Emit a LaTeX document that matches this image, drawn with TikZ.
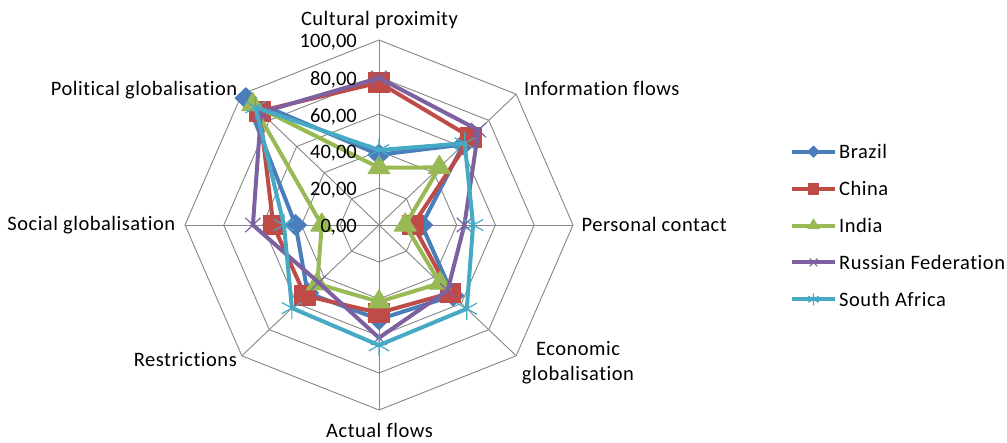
\documentclass[tikz,border=0pt]{standalone}
\usepackage{fontspec}
\setmainfont{Carlito}[Ligatures=NoCommon]
\newfontfamily\labelfont{Carlito}[Ligatures=NoCommon, LetterSpace=2.5]
\usetikzlibrary{plotmarks}

\definecolor{gridgray}{HTML}{868686}
\definecolor{brazilblue}{HTML}{4A7EBB}
\definecolor{chinared}{HTML}{BE4B48}
\definecolor{indiagreen}{HTML}{98B954}
\definecolor{russiapurple}{HTML}{7D60A0}
\definecolor{africacyan}{HTML}{46AAC5}

\tikzset{
    grid line/.style={draw=gridgray, line width=0.9pt},
    series/.style={line width=4pt, line join=round},
    brazil line/.style={series, brazilblue, mark=square*, mark size=4pt,
        mark options={solid, line width=0.8pt, rotate=45}},
    china line/.style={series, chinared, mark=square*, mark size=5.3pt,
        mark options={solid, line width=0.8pt}},
    india line/.style={series, indiagreen, mark=triangle*, mark size=6.6pt,
        mark options={solid, line width=0.8pt}},
    russia line/.style={series, russiapurple, mark=x, mark size=5.5pt,
        mark options={solid, line width=1.2pt}},
    africa line/.style={series, africacyan, mark=asterisk, mark size=6pt,
        mark options={solid, line width=1.2pt}},
    axis label/.style={font=\labelfont\fontsize{20.5}{25}\selectfont, inner sep=0pt, text=black},
    tick label/.style={font=\fontsize{20.5}{25}\selectfont, inner sep=0pt, text=black, anchor=east},
    legend label/.style={axis label, anchor=west}
}

\begin{document}
\begin{tikzpicture}[x=1pt, y=1pt]
    \useasboundingbox (0,0) rectangle (1007,-442);

    \begin{scope}[shift={(379,-225)}, xscale=1.94, yscale=1.85]
        % Rings
        \draw [grid line] (90:20) -- (45:20) -- (0:20) -- (-45:20) -- (-90:20) -- (-135:20) -- (180:20) -- (135:20) -- cycle;
        \draw [grid line] (90:40) -- (45:40) -- (0:40) -- (-45:40) -- (-90:40) -- (-135:40) -- (180:40) -- (135:40) -- cycle;
        \draw [grid line] (90:60) -- (45:60) -- (0:60) -- (-45:60) -- (-90:60) -- (-135:60) -- (180:60) -- (135:60) -- cycle;
        \draw [grid line] (90:80) -- (45:80) -- (0:80) -- (-45:80) -- (-90:80) -- (-135:80) -- (180:80) -- (135:80) -- cycle;
        \draw [grid line] (90:100) -- (45:100) -- (0:100) -- (-45:100) -- (-90:100) -- (-135:100) -- (180:100) -- (135:100) -- cycle;

        % Spokes
        \draw [grid line] (90:100) -- (-90:100);
        \draw [grid line] (45:100) -- (-135:100);
        \draw [grid line] (0:100) -- (180:100);
        \draw [grid line] (-45:100) -- (135:100);

        % Series
        \draw [brazil line] plot coordinates {(90:38) (45:61.5) (0:22) (-45:54) (-90:51) (-135:52) (180:43) (135:97)} -- cycle;
        \draw [china line] plot coordinates {(90:77) (45:67) (0:17.5) (-45:52) (-90:47.5) (-135:54) (180:54.5) (135:87)} -- cycle;
        \draw [india line] plot coordinates {(90:31) (45:44) (0:13.5) (-45:44.5) (-90:41.5) (-135:45) (180:29.5) (135:92)} -- cycle;
        \draw [russia line] plot coordinates {(90:79.5) (45:72.5) (0:44) (-45:50) (-90:61) (-135:44) (180:65) (135:86)} -- cycle;
        \draw [africa line] plot coordinates {(90:40.5) (45:62.5) (0:48.5) (-45:64) (-90:65) (-135:63.5) (180:49) (135:90)} -- cycle;
    \end{scope}

    % Axis labels
    \node [axis label, anchor=base] (cultural) at (379.5,-25) {Cultural proximity};
    \node [axis label, anchor=base west] (infoflows) at (524,-95) {Information flows};
    \node [axis label, anchor=base west] (personal) at (581.5,-231.7) {Personal contact};
    \node [axis label, anchor=base, align=center] (economic) at (578,-380) {Economic\\globalisation};
    \node [axis label, anchor=base] (actual) at (379.5,-437) {Actual flows};
    \node [axis label, anchor=base east] (restrictions) at (237,-366.5) {Restrictions};
    \node [axis label, anchor=base east] (social) at (175.5,-230.7) {Social globalisation};
    \node [axis label, anchor=base east] (political) at (237.5,-95) {Political globalisation};

    % Tick labels
    \node [tick label] (tick0) at (357,-227.5) {0,00};
    \node [tick label] (tick20) at (357,-190.5) {20,00};
    \node [tick label] (tick40) at (357,-153.5) {40,00};
    \node [tick label] (tick60) at (357,-116.5) {60,00};
    \node [tick label] (tick80) at (357,-79.5) {80,00};
    \node [tick label] (tick100) at (357,-42.5) {100,00};

    % Legend
    \draw [brazil line, mark indices={2}] plot coordinates {(792,-151.7) (813.5,-151.7) (835,-151.7)};
    \draw [china line, mark indices={2}] plot coordinates {(792,-188.6) (813.5,-188.6) (835,-188.6)};
    \draw [india line, mark indices={2}] plot coordinates {(792,-225.5) (813.5,-225.5) (835,-225.5)};
    \draw [russia line, mark indices={2}] plot coordinates {(792,-262.4) (813.5,-262.4) (835,-262.4)};
    \draw [africa line, mark indices={2}] plot coordinates {(792,-299.3) (813.5,-299.3) (835,-299.3)};
    \node [legend label] (brazil) at (839,-151.7) {Brazil};
    \node [legend label] (china) at (839,-188.6) {China};
    \node [legend label] (india) at (839,-225.5) {India};
    \node [legend label] (russia) at (839,-262.4) {Russian Federation};
    \node [legend label] (africa) at (839,-299.3) {South Africa};
\end{tikzpicture}
\end{document}
